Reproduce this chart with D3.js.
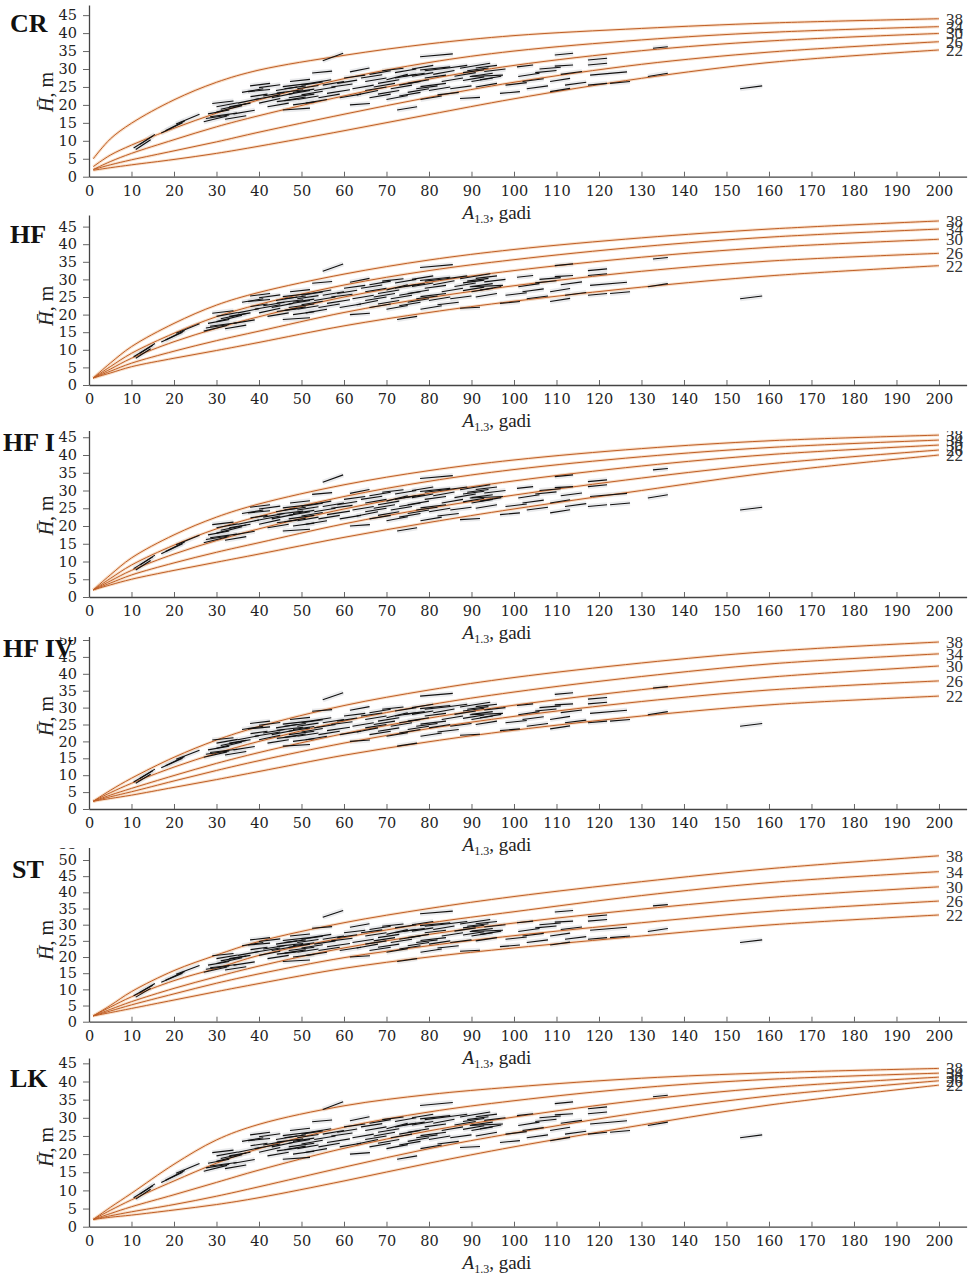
<!DOCTYPE html>
<html>
<head>
<meta charset="utf-8">
<script src="https://cdn.jsdelivr.net/npm/d3@7"></script>
<style>
  body { margin: 0; background: #fff; }
  svg text { font-family: "Liberation Serif", "Times New Roman", serif; }
  svg .tick text { font-family: "DejaVu Serif", serif; }
</style>
</head>
<body>
<svg id="chart" width="970" height="1276"></svg>
<script>
var ages = [1, 5, 10, 20, 30, 40, 60, 80, 100, 130, 160, 200];
var siteIndex = ["38", "34", "30", "26", "22"];

// height curves, one row per site index (38, 34, 30, 26, 22)
var crCurves = [
  [5.0, 10.5, 14.9, 21.4, 26.3, 29.7, 33.8, 37.0, 39.3, 41.3, 42.8, 44.0],
  [2.8, 6.0, 8.8, 13.5, 17.7, 21.4, 27.3, 31.8, 35.0, 38.1, 40.2, 41.8],
  [2.0, 4.2, 6.5, 10.3, 13.9, 17.0, 22.5, 27.2, 31.0, 35.1, 37.8, 39.9],
  [2.0, 3.3, 4.7, 7.2, 9.7, 12.4, 17.4, 22.1, 26.3, 31.3, 34.7, 37.6],
  [1.8, 2.5, 3.3, 4.8, 6.5, 8.5, 12.8, 17.3, 21.7, 27.4, 31.8, 35.3]
];
var hfCurves = [
  [2.0, 6.2, 10.9, 17.5, 22.7, 26.3, 31.5, 35.5, 38.5, 41.8, 44.3, 46.6],
  [2.0, 5.2, 9.0, 14.7, 19.4, 22.9, 28.4, 32.5, 35.6, 39.3, 42.0, 44.3],
  [2.0, 4.5, 7.6, 12.3, 16.1, 19.4, 25.0, 29.2, 32.5, 36.3, 39.1, 41.4],
  [2.0, 3.9, 6.2, 9.6, 12.6, 15.3, 20.6, 24.8, 28.2, 32.3, 35.2, 37.4],
  [2.0, 3.4, 5.2, 7.6, 9.8, 12.1, 16.8, 20.6, 23.8, 27.8, 31.0, 33.9]
];
var hf1Curves = [
  [2.0, 6.2, 11.0, 17.5, 22.5, 26.2, 31.6, 35.6, 38.6, 41.8, 44.0, 45.6],
  [2.0, 5.2, 9.0, 14.6, 19.2, 22.7, 28.3, 32.6, 35.9, 39.5, 42.1, 44.2],
  [2.0, 4.5, 7.5, 12.1, 15.9, 19.2, 24.8, 29.2, 32.7, 36.9, 40.1, 42.8],
  [2.0, 3.9, 6.2, 9.6, 12.6, 15.3, 20.6, 25.0, 28.7, 33.5, 37.5, 41.4],
  [2.0, 3.4, 5.0, 7.5, 9.8, 12.1, 16.8, 21.0, 24.8, 30.0, 35.0, 40.0]
];
var hf4Curves = [
  [2.3, 5.5, 9.1, 15.3, 20.4, 24.4, 30.6, 35.2, 38.9, 43.2, 46.6, 49.4],
  [2.3, 4.8, 7.6, 12.4, 16.5, 20.0, 26.0, 30.8, 34.6, 39.2, 42.9, 45.9],
  [2.3, 4.1, 6.1, 9.9, 13.5, 16.7, 22.3, 26.9, 30.7, 35.3, 39.0, 42.3],
  [2.3, 3.6, 5.1, 8.3, 11.4, 14.3, 19.5, 23.8, 27.4, 31.8, 35.2, 37.9],
  [2.3, 3.1, 4.1, 6.4, 8.7, 11.1, 15.9, 19.9, 23.3, 27.5, 30.8, 33.4]
];
var stCurves = [
  [1.8, 5.0, 9.3, 15.8, 20.6, 24.8, 30.6, 35.0, 38.7, 43.3, 47.3, 51.3],
  [1.8, 4.5, 7.7, 12.7, 16.5, 20.5, 26.0, 30.5, 34.0, 39.0, 43.0, 46.4],
  [1.8, 3.8, 6.2, 10.3, 13.9, 17.2, 22.8, 27.0, 30.5, 34.8, 38.4, 41.7],
  [1.8, 3.3, 5.2, 8.6, 11.9, 14.8, 19.8, 23.5, 26.6, 30.6, 34.1, 37.3],
  [1.8, 2.8, 4.1, 6.7, 9.3, 11.8, 16.5, 20.0, 22.8, 26.5, 29.9, 33.0]
];
var lkCurves = [
  [2.0, 5.3, 9.2, 17.2, 23.9, 28.2, 33.3, 36.4, 38.5, 40.9, 42.4, 43.6],
  [2.0, 4.5, 7.4, 12.6, 17.5, 21.5, 27.4, 31.6, 34.7, 38.3, 40.6, 42.3],
  [2.0, 3.6, 5.5, 8.8, 12.2, 15.6, 21.6, 26.4, 30.2, 34.9, 38.3, 41.2],
  [2.0, 3.0, 4.1, 6.1, 8.4, 11.0, 16.4, 21.5, 25.8, 31.5, 36.0, 40.2],
  [2.0, 2.6, 3.2, 4.6, 6.1, 8.0, 12.6, 17.5, 22.0, 28.0, 33.5, 39.0]
];

// observed stands: [age start, height start, age end, height end]
var segments = [
  [10.5, 8.0, 15, 11.3], [11, 7.6, 14.5, 10.3], [12, 9.0, 15.5, 11.8],
  [17, 12.2, 22, 15.0], [18, 12.8, 22.5, 15.5], [20.5, 14.7, 26, 17.4],
  [27, 15.3, 32.5, 16.9], [28.5, 16.7, 34.8, 17.7], [28, 17.5, 33, 18.6],
  [29, 20.4, 34, 21.1], [30, 19.5, 35, 20.6], [30, 18.0, 36, 19.8],
  [27.5, 16.2, 33, 17.2], [31, 18.8, 37, 20.3], [33, 19.5, 38, 20.5],
  [34, 17.5, 39, 18.5], [32, 16.0, 37, 17.0], [35, 20.5, 40, 21.7], [36, 23.5, 41, 24.5],
  [37.9, 25.3, 42.6, 26.0], [37.4, 23.7, 42.6, 24.3], [38, 22.3, 42, 23.0],
  [39, 21.5, 45, 22.8], [40, 20.5, 45, 21.8], [41, 22.5, 46, 23.5], [42, 19.5, 47, 20.5],
  [40, 24.8, 45, 25.6], [43, 22.0, 48, 23.2], [44, 24.0, 49, 25.0], [46, 21.2, 51, 22.2],
  [47.3, 26.5, 52, 27.1], [45.6, 25.1, 52, 26.0], [44.2, 23.3, 50.4, 24.2],
  [44.2, 20.9, 48.9, 21.6], [45.6, 18.6, 52, 19.1], [46, 24.5, 51, 25.3],
  [48, 23.5, 53, 24.4], [47, 22.0, 53, 23.0], [50, 25.5, 55, 26.4],
  [49, 21.5, 54, 22.5], [48, 20.0, 53, 20.8], [52.5, 28.9, 57.2, 29.4],
  [47, 23.0, 52, 24.0], [49, 24.5, 54, 25.4], [50, 22.8, 55, 23.8], [51, 20.5, 56, 21.5],
  [52, 26.0, 57, 27.0], [53, 24.0, 58, 25.0], [54, 22.0, 59, 23.0], [55, 25.5, 60, 26.5],
  [55, 32.3, 59.8, 34.4], [56, 23.2, 61.4, 24.2], [58.4, 26.0, 63.1, 26.9],
  [61.4, 29.2, 66, 30.3], [61.4, 20.0, 66.1, 20.4], [57, 25.0, 62, 25.8],
  [59, 22.0, 64, 23.0], [60, 27.5, 65, 28.3], [62, 24.5, 67, 25.5], [63, 22.8, 68, 24.0],
  [64, 27.5, 69, 28.4], [65, 24.0, 70, 25.0], [66, 22.0, 71, 23.0], [68, 26.0, 73, 27.0],
  [65, 26.5, 70, 27.5], [66, 28.5, 71, 29.5], [67, 25.0, 72, 26.0], [68, 23.0, 73, 24.0],
  [69, 29.5, 74, 30.2], [71, 24.5, 76, 25.5], [72, 27.5, 77, 28.5], [73, 22.5, 78, 23.5],
  [70, 27.0, 75, 28.5], [70, 21.5, 75, 22.6], [72, 29.0, 77, 30.0], [72.5, 18.6, 77.2, 19.5],
  [73, 25.5, 78, 26.5], [74, 28.0, 79, 28.8], [75, 23.5, 80, 24.5], [76, 30.0, 81, 31.0],
  [75, 26.0, 80, 27.0], [76, 28.0, 81, 29.0], [77, 24.5, 82, 25.3], [78, 21.5, 83, 22.5],
  [79, 29.5, 84, 30.2],
  [77.9, 33.4, 85.6, 34.2], [77.9, 29.7, 85, 30.6], [78, 25.1, 84, 26.0],
  [79, 27.5, 84, 28.3], [80, 24.0, 85, 25.0], [81, 28.5, 86, 29.6], [82, 22.8, 87, 23.5],
  [83, 26.5, 88, 27.5], [84, 30.2, 89, 31.0], [85, 24.5, 90, 25.3], [86, 28.0, 91, 29.0],
  [87.3, 30.2, 94.4, 31.6], [88, 29.0, 93, 29.8], [89.6, 27.9, 97.4, 28.3],
  [90, 26.5, 95, 27.5], [87.3, 21.8, 92, 22.1], [91, 30.3, 96, 31.0],
  [88, 26.8, 93, 27.8], [89, 29.5, 94, 30.3], [90, 28.0, 95, 28.8], [91, 25.0, 96, 26.0],
  [92, 27.0, 97, 28.0], [93, 29.3, 98, 30.0],
  [96.7, 23.2, 101.4, 23.7], [101, 27.9, 106, 28.8], [100.7, 30.6, 104.5, 31.1],
  [102, 26.5, 107, 27.3], [103, 24.5, 108, 25.3], [106, 30.0, 111, 30.5],
  [108.5, 26.5, 113.2, 27.4], [109.6, 30.8, 113.9, 31.1], [109.6, 33.9, 113.9, 34.4],
  [108.5, 23.7, 113.2, 24.6], [98, 25.5, 103, 26.2], [105, 29.0, 110, 29.6],
  [111, 28.5, 116, 29.3], [112, 25.5, 117, 26.3],
  [117.4, 32.5, 121.9, 33.0], [117.4, 31.1, 121.9, 31.6], [117.9, 28.3, 126.6, 29.2],
  [122.6, 26.0, 127.3, 26.5], [117.4, 25.5, 121.9, 26.0], [131.5, 27.9, 136.2, 28.8],
  [132.7, 35.8, 136.2, 36.2], [153.2, 24.5, 158.4, 25.3]
];

var xTicks = [0, 10, 20, 30, 40, 50, 60, 70, 80, 90, 100, 110, 120, 130, 140, 150, 160, 170, 180, 190, 200];
var yTicks45 = [0, 5, 10, 15, 20, 25, 30, 35, 40, 45];
var yTicks50 = [0, 5, 10, 15, 20, 25, 30, 35, 40, 45, 50];
var yTicks55 = [0, 5, 10, 15, 20, 25, 30, 35, 40, 45, 50, 55];

// layout of the six stacked panels (pixels)
var panels = [
  { name: "CR",    curves: crCurves,  ticks: yTicks45, y0: 176.7,  k: 3.59,  top: 5,    clip: 0,    nameX: 10, nameY: 32,   titleH: 23.6 },
  { name: "HF",    curves: hfCurves,  ticks: yTicks45, y0: 385,    k: 3.52,  top: 215,  clip: 213,  nameX: 10, nameY: 243,  titleH: 22.5 },
  { name: "HF I",  curves: hf1Curves, ticks: yTicks45, y0: 597,    k: 3.55,  top: 428,  clip: 431,  nameX: 3,  nameY: 451,  titleH: 23 },
  { name: "HF IV", curves: hf4Curves, ticks: yTicks50, y0: 809,    k: 3.38,  top: 632,  clip: 637,  nameX: 3,  nameY: 657,  titleH: 27.5 },
  { name: "ST",    curves: stCurves,  ticks: yTicks55, y0: 1021.7, k: 3.234, top: 840,  clip: 848,  nameX: 12, nameY: 878,  titleH: 25.3 },
  { name: "LK",    curves: lkCurves,  ticks: yTicks45, y0: 1226.7, k: 3.63,  top: 1058, clip: 1056, nameX: 10, nameY: 1087, titleH: 22 }
];

var svg = d3.select("#chart");
var defs = svg.append("defs");

panels.forEach(function(p, i) {
  defs.append("clipPath").attr("id", "clip" + i)
    .append("rect")
    .attr("x", 0).attr("y", p.clip)
    .attr("width", 970).attr("height", 1276 - p.clip);

  var g = svg.append("g").attr("clip-path", "url(#clip" + i + ")");

  var x = d3.scaleLinear().domain([0, 206.5]).range([89, 966.6]);
  var y = d3.scaleLinear().domain([0, (p.y0 - p.top) / p.k]).range([p.y0, p.top]);

  // grey blotches behind the observations
  g.append("g").selectAll("line")
    .data(segments)
    .enter()
    .append("line")
    .attr("x1", function(d) { return x(d[0]); })
    .attr("y1", function(d) { return y(d[1]); })
    .attr("x2", function(d) { return x(d[2]); })
    .attr("y2", function(d) { return y(d[3]); })
    .attr("stroke", "#b9bec4")
    .attr("stroke-width", 5)
    .attr("stroke-opacity", 0.3);

  // site index curves
  var line = d3.line()
    .x(function(d, j) { return x(ages[j]); })
    .y(function(d) { return y(d); })
    .curve(d3.curveCatmullRom.alpha(0.5));

  g.append("g").selectAll("path")
    .data(p.curves)
    .enter()
    .append("path")
    .attr("d", line)
    .attr("fill", "none")
    .attr("stroke", "#f5d2b2")
    .attr("stroke-width", 3)
    .attr("stroke-opacity", 0.7);

  g.append("g").selectAll("path")
    .data(p.curves)
    .enter()
    .append("path")
    .attr("d", line)
    .attr("fill", "none")
    .attr("stroke", "#bf5e26")
    .attr("stroke-width", 1);

  // observed height segments
  g.append("g").selectAll("line")
    .data(segments)
    .enter()
    .append("line")
    .attr("x1", function(d) { return x(d[0]); })
    .attr("y1", function(d) { return y(d[1]); })
    .attr("x2", function(d) { return x(d[2]); })
    .attr("y2", function(d) { return y(d[3]); })
    .attr("stroke", "#111")
    .attr("stroke-width", 1.1);

  // curve labels at the right end
  g.append("g").selectAll("text")
    .data(p.curves)
    .enter()
    .append("text")
    .attr("x", 946)
    .attr("y", function(d) { return y(d[d.length - 1]); })
    .attr("dy", "0.35em")
    .attr("font-size", "17px")
    .attr("fill", "#333")
    .text(function(d, j) { return siteIndex[j]; });

  // axes
  var xAxis = g.append("g")
    .attr("transform", "translate(0," + p.y0 + ")")
    .call(d3.axisBottom(x).tickValues(xTicks).tickSize(-5).tickSizeOuter(0).tickPadding(9));
  var yAxis = g.append("g")
    .attr("transform", "translate(89,0)")
    .call(d3.axisLeft(y).tickValues(p.ticks).tickSize(6).tickSizeOuter(0).tickPadding(6));

  [xAxis, yAxis].forEach(function(a) {
    a.attr("font-family", null);
    a.select(".domain").attr("stroke", "#444").attr("stroke-width", 1.3);
    a.selectAll(".tick line").attr("stroke", "#666");
    a.selectAll(".tick text")
      .style("font-size", "14.5px")
      .attr("fill", "#222");
  });

  // y title
  var yt = g.append("text")
    .attr("transform", "translate(53," + y(p.titleH) + ") rotate(-90)")
    .attr("text-anchor", "middle")
    .attr("font-size", "20px")
    .attr("fill", "#222");
  yt.append("tspan").attr("font-style", "italic").text("H\u0304");
  yt.append("tspan").text(", m");

  // x title
  var xt = g.append("text")
    .attr("x", 497)
    .attr("y", p.y0 + 42)
    .attr("text-anchor", "middle")
    .attr("font-size", "19px")
    .attr("fill", "#222");
  xt.append("tspan").attr("font-style", "italic").text("A");
  xt.append("tspan").attr("font-size", "12px").attr("dy", 4).text("1.3");
  xt.append("tspan").attr("dy", -4).text(", gadi");

  // panel name
  g.append("text")
    .attr("x", p.nameX)
    .attr("y", p.nameY)
    .attr("font-size", "26px")
    .attr("font-weight", "bold")
    .attr("fill", "#111")
    .text(p.name);
});
</script>
</body>
</html>
